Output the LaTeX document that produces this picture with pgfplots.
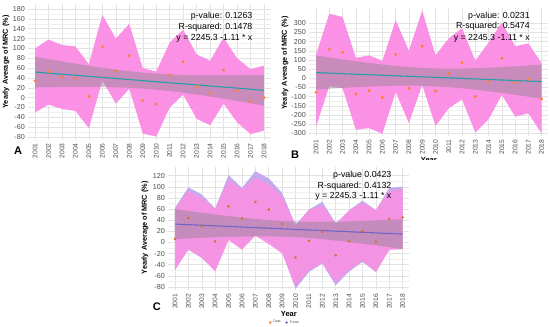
\documentclass[border=0pt]{standalone}
\usepackage{fontspec}
\setmainfont{Liberation Sans}
\usepackage{pgfplots}
\usepackage{pgfplotstable}
\pgfplotsset{compat=1.18}
\definecolor{ribpink}{RGB}{250,145,228}
\definecolor{ribpurp}{RGB}{196,170,236}
\definecolor{fitteal}{RGB}{38,158,168}
\definecolor{fitpurp}{RGB}{112,100,200}
\definecolor{ptorange}{RGB}{255,128,48}
\definecolor{tickgray}{RGB}{77,77,77}
\definecolor{gridmaj}{RGB}{226,226,226}
\definecolor{gridmin}{RGB}{240,240,240}

\pgfplotstableread{
year pt fit
2001 34 52
2002 53 49.8
2003 42 47.6
2004 39 45.5
2005 2 43.3
2006 103 41.1
2007 54 38.9
2008 85 36.8
2009 -6 34.6
2010 -13 32.4
2011 46 30.2
2012 73 28.1
2013 23 25.9
2014 9 23.7
2015 56 21.5
2016 15 19.4
2017 -8 17.2
2018 0 15
}\dataA

\pgfplotstableread{
year pt fit
2001 -76 31
2002 158 28.1
2003 142 25.2
2004 -85 22.4
2005 -67 19.5
2006 -104 16.6
2007 131 13.7
2008 -55 10.8
2009 175 7.9
2010 -69 5.1
2011 27 2.2
2012 85 -0.7
2013 -100 -3.6
2014 -18 -6.5
2015 109 -9.4
2016 -22 -12.2
2017 -4 -15.1
2018 -113 -18
}\dataB

\pgfplotstableread{
year pt fit
2001 6 33
2002 44 31.9
2003 29 30.9
2004 2 29.8
2005 65 28.8
2006 43 27.7
2007 73 26.6
2008 59 25.6
2009 33 24.5
2010 -27 23.5
2011 3 22.4
2012 19 21.4
2013 -23 20.3
2014 2 19.2
2015 20 18.2
2016 1 17.1
2017 42 16.1
2018 45 15
}\dataC

\pgfplotsset{
  panel/.style={
    scale only axis, clip=false,
    xmin=2000.5, xmax=2018.5,
    xtick={2001,2002,...,2018},
    /pgf/number format/1000 sep={},
    /pgf/number format/assume math mode=true,
    xticklabel style={rotate=90, anchor=east, font=\fontsize{6.7}{7.5}\selectfont, text=tickgray},
    yticklabel style={font=\fontsize{7.2}{8.5}\selectfont, text=tickgray},
    grid=both,
    major grid style={gridmaj, line width=0.5pt},
    minor grid style={gridmin, line width=0.4pt},
    minor y tick num=1,
    axis line style={draw=none},
    major tick length=0pt, minor tick length=0pt,
    xlabel={Year},
    xlabel style={font=\fontsize{7.5}{9}\selectfont\bfseries, yshift=4pt},
    ylabel={Yearly Average of MRC (\%)},
    ylabel style={font=\fontsize{7.3}{9}\selectfont\bfseries, anchor=center},
  },
}
\tikzset{
  ann/.style={anchor=east, font=\fontsize{8.8}{10.5}\selectfont},
  letter/.style={font=\fontsize{11}{13}\selectfont\bfseries},
}

\begin{document}
\begin{tikzpicture}
\useasboundingbox (0pt,0pt) rectangle (550pt,327pt);

% Panel A
\begin{axis}[panel,
  at={(28.3pt,187pt)}, anchor=south west,
  width=242.4pt, height=135.9pt,
  ymin=-86, ymax=190,
  ytick={-80,-60,...,180},
  ylabel style={at={(axis description cs:-0.092,0.574)}},
]
\addplot[fill=ribpink, draw=none] coordinates {
 (2001,100)(2002,118)(2003,107)(2004,104)(2005,68)(2006,168)(2007,120)(2008,150)(2009,60)(2010,53)(2011,112)(2012,138)(2013,88)(2014,75)(2015,122)(2016,80)(2017,58)(2018,65)
 (2018,-67)(2017,-74)(2016,-50)(2015,-12)(2014,-56)(2013,-43)(2012,6)(2011,-20)(2010,-79)(2009,-73)(2008,18)(2007,-12)(2006,35)(2005,-62)(2004,-27)(2003,-23)(2002,-14)(2001,-30)
} -- cycle;
\addplot[fill=gray, fill opacity=0.4, draw=none] coordinates {
 (2001,83)(2002,78.2)(2003,73.5)(2004,69.0)(2005,64.7)(2006,60.6)(2007,56.8)(2008,53.6)(2009,50.8)(2010,48.6)(2011,47.0)(2012,46.0)(2013,45.4)(2014,45.1)(2015,45.0)(2016,45.3)(2017,45.6)(2018,46)
 (2018,-16)(2017,-11.2)(2016,-6.5)(2015,-2.0)(2014,2.3)(2013,6.4)(2012,10.2)(2011,13.4)(2010,16.2)(2009,18.4)(2008,20.0)(2007,21.0)(2006,21.6)(2005,21.9)(2004,22.0)(2003,21.7)(2002,21.4)(2001,21)
} -- cycle;
\addplot[fitteal, line width=1.1pt] table[x=year,y=fit]{\dataA};
\addplot[only marks, mark=*, mark size=1.3pt, mark options={fill=ptorange, draw=ptorange}] table[x=year,y=pt]{\dataA};
\node[ann] at (rel axis cs:0.939,0.912) {p-value: 0.1263};
\node[ann] at (rel axis cs:0.939,0.831) {R-squared: 0.1478};
\node[ann] at (rel axis cs:0.939,0.751) {y = 2245.3 -1.11 * x};
\node[letter] at (rel axis cs:-0.042,-0.081) {A};
\end{axis}

% Panel B
\begin{axis}[panel,
  at={(309.4pt,190.95pt)}, anchor=south west,
  width=238.9pt, height=128.35pt,
  ymin=-315, ymax=385,
  ytick={-300,-250,...,300},
  ylabel style={at={(axis description cs:-0.102,0.569)}},
]
\addplot[fill=ribpink, draw=none] coordinates {
 (2001,130)(2002,352)(2003,335)(2004,112)(2005,125)(2006,95)(2007,318)(2008,150)(2009,370)(2010,125)(2011,218)(2012,273)(2013,96)(2014,195)(2015,304)(2016,175)(2017,190)(2018,82)
 (2018,-302)(2017,-191)(2016,-209)(2015,-91)(2014,-224)(2013,-296)(2012,-115)(2011,-164)(2010,-260)(2009,-36)(2008,-245)(2007,-75)(2006,-302)(2005,-272)(2004,-280)(2003,-55)(2002,-42)(2001,-264)
} -- cycle;
\addplot[fill=gray, fill opacity=0.4, draw=none] coordinates {
 (2001,124)(2002,113.3)(2003,102.9)(2004,93.0)(2005,83.7)(2006,75.1)(2007,67.5)(2008,61.2)(2009,56.6)(2010,53.8)(2011,52.6)(2012,53.1)(2013,54.9)(2014,57.7)(2015,61.2)(2016,65.5)(2017,70.1)(2018,75)
 (2018,-111)(2017,-100.3)(2016,-89.9)(2015,-80.0)(2014,-70.7)(2013,-62.1)(2012,-54.5)(2011,-48.2)(2010,-43.6)(2009,-40.8)(2008,-39.6)(2007,-40.1)(2006,-41.9)(2005,-44.7)(2004,-48.2)(2003,-52.5)(2002,-57.1)(2001,-62)
} -- cycle;
\addplot[fitteal, line width=1.1pt] table[x=year,y=fit]{\dataB};
\addplot[only marks, mark=*, mark size=1.3pt, mark options={fill=ptorange, draw=ptorange}] table[x=year,y=pt]{\dataB};
\node[ann] at (rel axis cs:0.937,0.935) {p-value: 0.0231};
\node[ann] at (rel axis cs:0.937,0.852) {R-squared: 0.5474};
\node[ann] at (rel axis cs:0.937,0.762) {y = 2245.3 -1.11 * x};
\node[letter] at (rel axis cs:-0.060,-0.148) {B};
\end{axis}

\fill[white] (0pt,0pt) rectangle (550pt,167pt);

% Panel C
\begin{axis}[panel,
  at={(168.3pt,36.7pt)}, anchor=south west,
  width=241.1pt, height=123pt,
  ymin=-86, ymax=135,
  ytick={-80,-60,...,120},
  ylabel style={at={(axis description cs:-0.097,0.507)}},
  legend columns=2,
  legend style={draw=none, fill=none, font=\fontsize{3.5}{4}\selectfont, text=tickgray,
    at={(0.484,-0.262)}, anchor=center, inner sep=0pt,
    /tikz/every even column/.append style={column sep=3pt}},
]
\addlegendimage{only marks, mark=*, mark size=1pt, mark options={fill=ptorange, draw=ptorange}}
\addlegendentry{Data}
\addlegendimage{only marks, mark=*, mark size=1pt, mark options={fill=fitpurp, draw=fitpurp}}
\addlegendentry{Trend}
\addplot[fill=ribpurp, draw=none] coordinates {
 (2001,62)(2002,99)(2003,86)(2004,61)(2005,121)(2006,98)(2007,128)(2008,115)(2009,89)(2010,31)(2011,59)(2012,73)(2013,34)(2014,58)(2015,75)(2016,58)(2017,98)(2018,100)
 (2018,-12)(2017,-13)(2016,-53)(2015,-35)(2014,-52)(2013,-77)(2012,-38)(2011,-53)(2010,-83)(2009,-18)(2008,2)(2007,14)(2006,-12)(2005,8)(2004,-50)(2003,-28)(2002,-13)(2001,-48)
} -- cycle;
\addplot[fill=ribpink, fill opacity=0.9, draw=none] coordinates {
 (2001,60)(2002,92)(2003,80)(2004,60)(2005,112)(2006,95)(2007,116)(2008,104)(2009,82)(2010,30)(2011,58)(2012,66)(2013,32)(2014,57)(2015,71)(2016,58)(2017,92)(2018,95)
 (2018,-12)(2017,-13)(2016,-53)(2015,-33)(2014,-48)(2013,-72)(2012,-36)(2011,-50)(2010,-78)(2009,-20)(2008,-3)(2007,12)(2006,-13)(2005,4)(2004,-52)(2003,-27)(2002,-12)(2001,-50)
} -- cycle;
\addplot[fill=gray, fill opacity=0.4, draw=none] coordinates {
 (2001,60)(2002,56.6)(2003,53.4)(2004,50.3)(2005,47.4)(2006,44.7)(2007,42.2)(2008,40.2)(2009,38.6)(2010,37.6)(2011,37.0)(2012,37.0)(2013,37.3)(2014,37.8)(2015,38.7)(2016,39.6)(2017,40.8)(2018,42)
 (2018,-12)(2017,-8.6)(2016,-5.4)(2015,-2.3)(2014,0.6)(2013,3.3)(2012,5.8)(2011,7.8)(2010,9.4)(2009,10.4)(2008,11.0)(2007,11.0)(2006,10.7)(2005,10.2)(2004,9.3)(2003,8.4)(2002,7.2)(2001,6)
} -- cycle;
\addplot[fitpurp, line width=1.1pt] table[x=year,y=fit]{\dataC};
\addplot[only marks, mark=*, mark size=1.1pt, mark options={fill=ptorange!85!black, draw=ptorange!85!black}] table[x=year,y=pt]{\dataC};
\node[ann] at (rel axis cs:0.940,0.932) {p-value 0.0423};
\node[ann] at (rel axis cs:0.940,0.848) {R-squared: 0.4132};
\node[ann] at (rel axis cs:0.940,0.761) {y = 2245.3 -1.11 * x};
\node[letter] at (rel axis cs:-0.047,-0.136) {C};
\end{axis}
\end{tikzpicture}
\end{document}
